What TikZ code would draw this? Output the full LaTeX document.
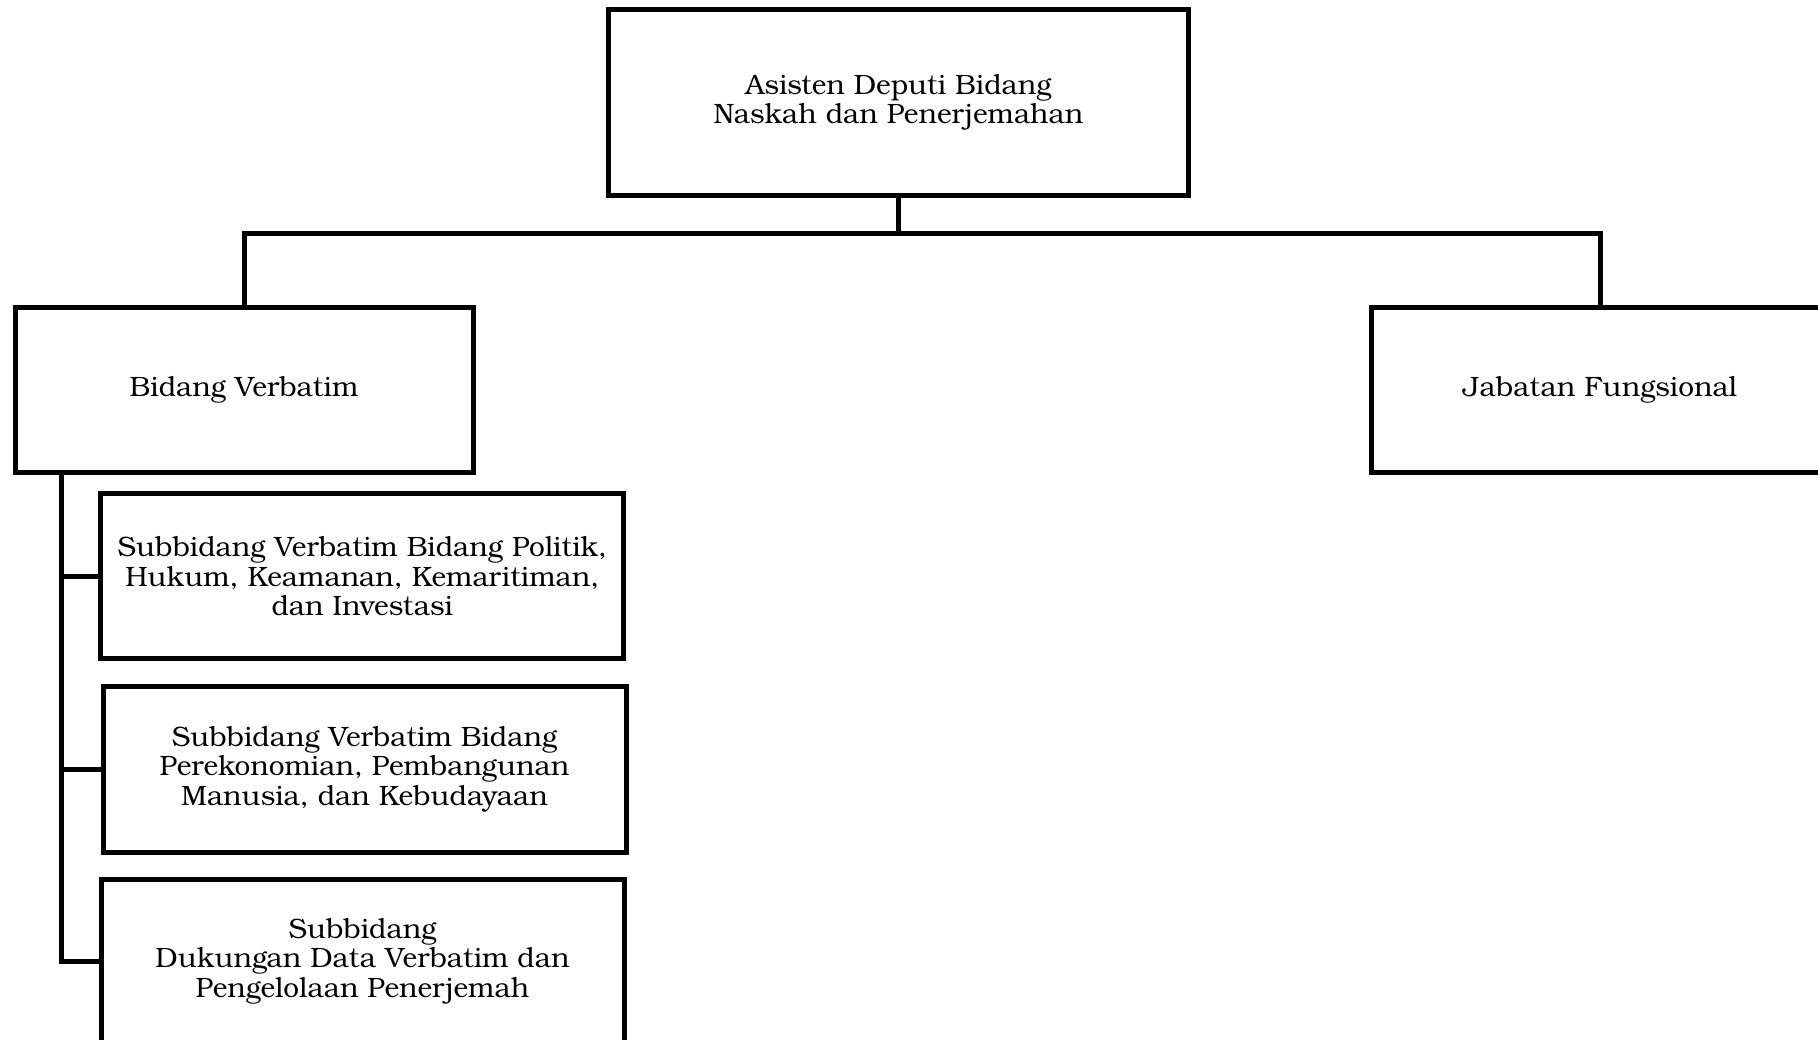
\documentclass[tikz,border=0pt]{standalone}
\usepackage{fontspec}
\setmainfont{TeX Gyre Bonum}
\begin{document}
\begin{tikzpicture}[x=1pt,y=-1pt,
  orgbox/.style={draw=black, line width=5pt, align=center, inner sep=0pt, outer sep=0pt,
    font={\fontsize{28}{29.6}\selectfont}},
  conn/.style={draw=black, line width=5pt}]
\path[use as bounding box, clip] (0,0) rectangle (1818,1039);
\fill[white] (0,0) rectangle (1818,1039);
\node[orgbox, minimum width=579.7pt, minimum height=186.6pt] (top) at (898.5,102.5)
  {Asisten Deputi Bidang\\Naskah dan Penerjemahan};
\node[orgbox, minimum width=458pt, minimum height=165pt] (bv) at (244,389.5)
  {Bidang Verbatim};
\node[orgbox, minimum width=457pt, minimum height=165pt] (jf) at (1600,389.5)
  {Jabatan Fungsional};
\node[orgbox, minimum width=523pt, minimum height=164.5pt] (s1) at (362.3,576.2)
  {Subbidang Verbatim Bidang Politik,\\Hukum, Keamanan, Kemaritiman,\\dan Investasi};
\node[orgbox, minimum width=523pt, minimum height=166pt] (s2) at (364.5,769)
  {Subbidang Verbatim Bidang\\Perekonomian, Pembangunan\\Manusia, dan Kebudayaan};
\node[orgbox, minimum width=523pt, minimum height=164pt] (s3) at (362.5,961)
  {Subbidang\\Dukungan Data Verbatim dan\\Pengelolaan Penerjemah};
\coordinate (hub) at (898.5,233);
\coordinate (spine) at (61.5,472);
\draw[conn] (top.south) -- (hub);
\draw[conn] (bv.north) |- (hub) -| (jf.north);
\draw[conn] (spine) |- (s3.west);
\draw[conn] (spine |- s1.west) -- (s1.west);
\draw[conn] (spine |- s2.west) -- (s2.west);
\end{tikzpicture}
\end{document}
